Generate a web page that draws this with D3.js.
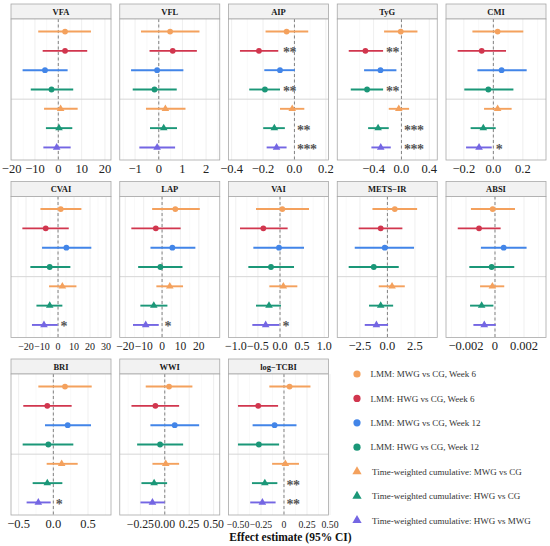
<!DOCTYPE html>
<html>
<head>
<meta charset="utf-8">
<script src="https://cdn.jsdelivr.net/npm/d3@7"></script>
<style>
  body { margin: 0; background: #fff; }
  svg { font-family: "Liberation Serif", "Times New Roman", serif; }
</style>
</head>
<body>
<svg id="chart" width="550" height="546"></svg>
<script>
// ----- data -----
var panels = ["VFA", "VFL", "AIP", "TyG", "CMI", "CVAI", "LAP", "VAI", "METS\u2212IR", "ABSI", "BRI", "WWI", "log\u2212TCBI"];

var comparisons = [
  "LMM: MWG vs CG, Week 6",
  "LMM: HWG vs CG, Week 6",
  "LMM: MWG vs CG, Week 12",
  "LMM: HWG vs CG, Week 12",
  "Time-weighted cumulative: MWG vs CG",
  "Time-weighted cumulative: HWG vs CG",
  "Time-weighted cumulative: HWG vs MWG"
];

// one row per panel, one value per comparison
var estimate = [
  [2.9, 2.9, -5.7, -2.9, 1.0, 0.3, -0.7],
  [0.48, 0.59, -0.07, -0.18, 0.28, 0.21, -0.07],
  [-0.050, -0.226, -0.092, -0.188, -0.014, -0.128, -0.114],
  [-0.010, -0.517, -0.301, -0.493, -0.038, -0.335, -0.297],
  [0.029, -0.079, 0.056, -0.034, 0.029, -0.068, -0.097],
  [1.7, -7.7, 5.2, -5.2, 2.7, -5.2, -8.8],
  [7.2, -3.4, 5.6, -0.9, 4.2, -4.5, -8.9],
  [0.053, -0.377, -0.023, -0.204, 0.075, -0.249, -0.324],
  [0.67, -0.61, -0.24, -1.24, 0.42, -0.61, -1.00],
  [-0.00016, -0.00110, 0.00060, -0.00023, -0.00018, -0.00092, -0.00074],
  [0.168, -0.087, 0.207, -0.072, 0.120, -0.087, -0.216],
  [0.044, -0.096, 0.102, -0.048, 0.010, -0.109, -0.126],
  [0.061, -0.280, -0.102, -0.273, 0.015, -0.208, -0.235]
];

var lower = [
  [-8.6, -6.7, -15.3, -11.8, -6.1, -5.3, -6.4],
  [-0.75, -0.39, -1.17, -1.10, -0.54, -0.37, -0.82],
  [-0.184, -0.347, -0.192, -0.288, -0.092, -0.199, -0.177],
  [-0.249, -0.756, -0.536, -0.727, -0.182, -0.478, -0.431],
  [-0.142, -0.242, -0.108, -0.197, -0.063, -0.154, -0.185],
  [-11.0, -22.3, -10.0, -17.3, -5.6, -13.5, -16.3],
  [-5.4, -16.7, -6.3, -13.0, -3.1, -11.8, -15.8],
  [-0.543, -0.905, -0.603, -0.716, -0.241, -0.543, -0.626],
  [-1.36, -2.61, -2.97, -3.52, -0.79, -1.67, -2.06],
  [-0.00166, -0.00257, -0.00097, -0.00177, -0.00103, -0.00172, -0.00149],
  [-0.216, -0.433, -0.120, -0.442, -0.096, -0.298, -0.385],
  [-0.195, -0.341, -0.147, -0.283, -0.126, -0.239, -0.249],
  [-0.159, -0.500, -0.341, -0.500, -0.129, -0.348, -0.367]
];

var upper = [
  [14.0, 12.4, 4.0, 6.4, 8.3, 6.0, 5.3],
  [1.72, 1.61, 1.04, 0.76, 1.13, 0.77, 0.69],
  [0.088, -0.103, 0.003, -0.092, 0.063, -0.061, -0.050],
  [0.230, -0.263, -0.072, -0.263, 0.110, -0.182, -0.153],
  [0.203, 0.086, 0.226, 0.136, 0.124, 0.016, -0.011],
  [14.6, 6.7, 20.8, 7.7, 11.5, 2.7, -0.2],
  [20.5, 10.1, 18.1, 11.1, 11.4, 2.9, -1.8],
  [0.656, 0.173, 0.543, 0.317, 0.392, 0.023, -0.015],
  [2.70, 1.36, 2.42, 1.03, 1.58, 0.52, 0.06],
  [0.00138, 0.00039, 0.00218, 0.00133, 0.00064, -0.00011, 0.00005],
  [0.553, 0.264, 0.543, 0.288, 0.351, 0.130, -0.038],
  [0.283, 0.147, 0.352, 0.188, 0.147, 0.024, 0.000],
  [0.288, -0.064, 0.136, -0.053, 0.163, -0.072, -0.091]
];

var stars = [
  ["", "", "", "", "", "", ""],
  ["", "", "", "", "", "", ""],
  ["", "**", "", "**", "", "**", "***"],
  ["", "**", "", "**", "", "***", "***"],
  ["", "", "", "", "", "", "*"],
  ["", "", "", "", "", "", "*"],
  ["", "", "", "", "", "", "*"],
  ["", "", "", "", "", "", "*"],
  ["", "", "", "", "", "", ""],
  ["", "", "", "", "", "", ""],
  ["", "", "", "", "", "", "*"],
  ["", "", "", "", "", "", ""],
  ["", "", "", "", "", "**", "**"]
];

var xDomains = [
  [-20.27, 22.59], [-1.648, 2.577], [-0.42, 0.217], [-0.921, 0.514], [-0.321, 0.357],
  [-29.4, 33.1], [-23.0, 31.35], [-1.165, 1.097], [-4.56, 4.53], [-0.00338, 0.00352],
  [-0.61, 0.831], [-0.461, 0.563], [-0.603, 0.484]
];

var tickValues = [
  [-20, -10, 0, 10, 20], [-1, 0, 1, 2], [-0.4, -0.2, 0, 0.2], [-0.4, 0, 0.4], [-0.2, 0, 0.2],
  [-20, -10, 0, 10, 20, 30], [-20, -10, 0, 10, 20], [-1, -0.5, 0, 0.5, 1], [-2.5, 0, 2.5], [-0.002, 0, 0.002],
  [-0.5, 0, 0.5], [-0.25, 0, 0.25, 0.5], [-0.5, -0.25, 0, 0.25, 0.5]
];

var tickLabels = [
  ["\u221220", "\u221210", "0", "10", "20"],
  ["\u22121", "0", "1", "2"],
  ["\u22120.4", "\u22120.2", "0.0", "0.2"],
  ["\u22120.4", "0.0", "0.4"],
  ["\u22120.2", "0.0", "0.2"],
  ["\u221220", "\u221210", "0", "10", "20", "30"],
  ["\u221220", "\u221210", "0", "10", "20"],
  ["\u22121.0", "\u22120.5", "0.0", "0.5", "1.0"],
  ["\u22122.5", "0.0", "2.5"],
  ["\u22120.002", "0", "0.002"],
  ["\u22120.5", "0.0", "0.5"],
  ["\u22120.25", "0.00", "0.25", "0.50"],
  ["\u22120.50", "\u22120.25", "0", "0.25", "0.50"]
];

// ----- style -----
var colors = ["#F4A15D", "#D1364E", "#4285E8", "#1B9778", "#F4A15D", "#1B9778", "#7466E3"];
var shapes = ["circle", "circle", "circle", "circle", "triangle", "triangle", "triangle"];

var panelW = 100, stripH = 15, plotH = 141;
var colStep = 108.75, rowStep = 177.5;
var borderCol = "#A8A8A8";
var tickSize = 12.5;

var svg = d3.select("#chart");

function draw_mark(sel, shape, color, cx, cy, size) {
  if (shape === "circle") {
    sel.append("circle").attr("cx", cx).attr("cy", cy).attr("r", size).attr("fill", color);
  } else {
    sel.append("path")
      .attr("d", d3.symbol(d3.symbolTriangle).size(size * size * 3.2)())
      .attr("transform", "translate(" + cx + "," + cy + ")")
      .attr("fill", color);
  }
}

var tickGroups = [];

panels.forEach(function (name, i) {
  var col = i % 5, row = Math.floor(i / 5);
  var g = svg.append("g")
    .attr("transform", "translate(" + (11 + col * colStep) + "," + (4 + row * rowStep) + ")");

  var x = d3.scaleLinear().domain(xDomains[i]).range([0, panelW]);
  var y = d3.scalePoint().domain(d3.range(7)).range([stripH, stripH + plotH]).padding(0.65);

  // strip
  g.append("rect").attr("x", 0).attr("y", 0).attr("width", panelW).attr("height", stripH)
    .attr("fill", "#F2F2F2").attr("stroke", borderCol).attr("stroke-width", 0.8);
  g.append("text").attr("x", panelW / 2).attr("y", stripH / 2 + 3)
    .attr("text-anchor", "middle").attr("font-size", 8.5).attr("font-weight", "bold")
    .attr("fill", "#1a1a1a").text(name);

  g.append("rect").attr("x", 0).attr("y", stripH).attr("width", panelW).attr("height", plotH)
    .attr("fill", "#fff");

  // grid: minor at midpoints, major at ticks
  var tv = tickValues[i];
  var step = tv[1] - tv[0];
  var minor = [];
  for (var v = tv[0] - step / 2; v <= xDomains[i][1]; v += step) {
    if (v >= xDomains[i][0]) minor.push(v);
  }
  g.selectAll(".minor").data(minor).enter().append("line")
    .attr("x1", function (d) { return x(d); }).attr("x2", function (d) { return x(d); })
    .attr("y1", stripH).attr("y2", stripH + plotH)
    .attr("stroke", "#F3F3F3").attr("stroke-width", 0.5);
  g.selectAll(".major").data(tv).enter().append("line")
    .attr("x1", function (d) { return x(d); }).attr("x2", function (d) { return x(d); })
    .attr("y1", stripH).attr("y2", stripH + plotH)
    .attr("stroke", "#E8E8E8").attr("stroke-width", 0.7);

  // separator LMM / cumulative
  var sepY = (y(3) + y(4)) / 2;
  g.append("line").attr("x1", 0).attr("x2", panelW).attr("y1", sepY).attr("y2", sepY)
    .attr("stroke", "#D6D6D6").attr("stroke-width", 1);

  // zero line
  g.append("line").attr("x1", x(0)).attr("x2", x(0)).attr("y1", stripH).attr("y2", stripH + plotH)
    .attr("stroke", "#666").attr("stroke-width", 0.8).attr("stroke-dasharray", "3,2.5");

  // CIs + points
  d3.range(7).forEach(function (k) {
    g.append("line")
      .attr("x1", x(lower[i][k])).attr("x2", x(upper[i][k]))
      .attr("y1", y(k)).attr("y2", y(k))
      .attr("stroke", colors[k]).attr("stroke-width", 1.9);
    draw_mark(g, shapes[k], colors[k], x(estimate[i][k]), y(k), shapes[k] === "circle" ? 2.9 : 2.8);
  });

  // significance stars
  var lmmStarred = d3.range(4).filter(function (k) { return stars[i][k] !== ""; });
  var lmmX = lmmStarred.length ? d3.max(lmmStarred, function (k) { return x(upper[i][k]); }) + 3 : 0;
  d3.range(7).forEach(function (k) {
    if (stars[i][k] === "") return;
    var sx = k < 4 ? lmmX : x(0) + 2.5;
    g.append("text").attr("x", sx).attr("y", y(k) + 6.5)
      .attr("font-size", 14).attr("font-weight", "bold").attr("fill", "#555")
      .attr("letter-spacing", -0.5)
      .text(stars[i][k]);
  });

  // border
  g.append("rect").attr("x", 0).attr("y", stripH).attr("width", panelW).attr("height", plotH)
    .attr("fill", "none").attr("stroke", borderCol).attr("stroke-width", 0.8);

  // tick labels
  var tl = g.selectAll(".tl").data(tv).enter().append("text")
    .attr("class", "tl")
    .attr("x", function (d) { return x(d); })
    .attr("y", stripH + plotH + 12.5)
    .attr("text-anchor", "middle").attr("font-size", tickSize).attr("fill", "#222")
    .text(function (d, j) { return tickLabels[i][j]; });
  tickGroups.push({ row: row, sel: tl, size: tickSize });
});

// shrink crowded tick labels so neighbours do not collide
for (var pass = 0; pass < 60; pass++) {
  var changed = false;
  [0, 1, 2].forEach(function (r) {
    var items = [];
    tickGroups.forEach(function (tg, gi) {
      if (tg.row !== r) return;
      tg.sel.each(function () {
        var b = this.getBoundingClientRect();
        items.push({ gi: gi, l: b.left, r: b.right });
      });
    });
    items.sort(function (a, b) { return a.l - b.l; });
    for (var j = 1; j < items.length; j++) {
      if (items[j - 1].r > items[j].l) {
        [items[j - 1].gi, items[j].gi].forEach(function (gi) {
          if (tickGroups[gi].size > 9.75) { tickGroups[gi].size -= 0.25; changed = true; }
        });
      }
    }
  });
  tickGroups.forEach(function (tg) { tg.sel.attr("font-size", tg.size); });
  if (!changed) break;
}

// axis title
svg.append("text").attr("x", 290.5).attr("y", 540.5)
  .attr("text-anchor", "middle").attr("font-size", 11.5).attr("font-weight", "bold")
  .attr("fill", "#111").text("Effect estimate (95% CI)");

// legend
var legend = svg.append("g");
comparisons.forEach(function (label, k) {
  var ly = 374 + k * 24.4;
  draw_mark(legend, shapes[k], colors[k], 357, ly, shapes[k] === "circle" ? 3.6 : 3.4);
  legend.append("text").attr("x", shapes[k] === "circle" ? 370.5 : 372).attr("y", ly + 3.2)
    .attr("font-size", 9).attr("fill", "#333").text(label);
});
</script>
</body>
</html>
